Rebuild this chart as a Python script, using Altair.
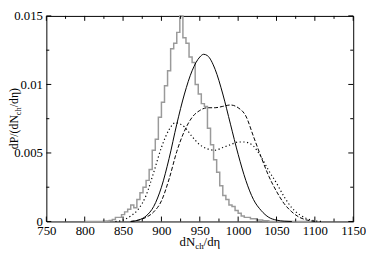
import altair as alt
import pandas as pd

# ---------------- data ----------------
x_major = [750, 800, 850, 900, 950, 1000, 1050, 1100, 1150]
x_minor = [775, 825, 875, 925, 975, 1025, 1075, 1125]
y_major = [0, 0.005, 0.01, 0.015]
y_minor = [0.0025, 0.0075, 0.0125]

hist_x = list(range(800, 1104, 4))  # bin left edges
hist_y = [0, 0, 0, 0, 0,
          0, 0.00002, 0.00004, 0.00008, 0.00015,
          0.0003, 0.0003, 0.0005, 0.0007, 0.0009,
          0.0012, 0.0010, 0.0016, 0.0021, 0.0025,
          0.0030, 0.0038, 0.0052, 0.0060, 0.0076,
          0.0087, 0.0099, 0.0110, 0.0126, 0.0130,
          0.0138, 0.0150, 0.0134, 0.0130, 0.0120,
          0.0116, 0.0100, 0.0093, 0.0086, 0.0084,
          0.0068, 0.0056, 0.0045, 0.0036, 0.0026,
          0.0019, 0.0016, 0.0012, 0.0011, 0.0008,
          0.0006, 0.0004, 0.0003, 0.0003, 0.0002,
          0.0002, 0.0001, 0.0001, 0.00005, 0.00005,
          0, 0, 0, 0, 0, 0, 0, 0, 0, 0, 0, 0, 0, 0, 0, 0]

solid_x = [860, 870, 880, 890, 900, 910, 920, 930, 940, 950, 955, 960, 970,
           980, 990, 1000, 1010, 1020, 1030, 1040, 1050, 1060, 1070]
solid_y = [0.0, 0.0001, 0.0004, 0.0011, 0.0025, 0.0046, 0.0071, 0.0093, 0.0110,
           0.0120, 0.0122, 0.0121, 0.0111, 0.0093, 0.0071, 0.0049, 0.0030,
           0.0016, 0.0008, 0.0003, 0.0001, 0.00002, 0.0]

dashed_x = [860, 870, 880, 890, 900, 910, 920, 930, 940, 950, 960, 970, 980,
            990, 1000, 1010, 1020, 1030, 1040, 1050, 1060, 1070, 1080, 1090, 1100]
dashed_y = [0.0, 0.0001, 0.0003, 0.0007, 0.0015, 0.0031, 0.0051, 0.0066, 0.0076,
            0.0081, 0.0083, 0.0083, 0.0084, 0.0085, 0.0083, 0.0077, 0.0062,
            0.0047, 0.0033, 0.0022, 0.0013, 0.0007, 0.0003, 0.0001, 0.0]

dotted_x = [840, 850, 860, 870, 880, 890, 900, 910, 918, 925, 930, 940, 950, 960,
            970, 980, 990, 1000, 1008, 1020, 1030, 1040, 1050, 1060, 1070, 1080,
            1090, 1100, 1110]
dotted_y = [0.0, 0.0001, 0.0004, 0.0009, 0.0019, 0.0036, 0.0054, 0.0067, 0.0072,
            0.0071, 0.0069, 0.0062, 0.0056, 0.0053, 0.0052, 0.0054, 0.0056,
            0.0058, 0.0058, 0.0055, 0.0047, 0.0037, 0.0028, 0.0018, 0.0010,
            0.0005, 0.0002, 0.00005, 0.0]

# ---------------- layout ----------------
W, H = 312, 209
FONT = "Liberation Serif"

xs = alt.Scale(domain=[750, 1150], nice=False, zero=False)
ys = alt.Scale(domain=[0, 0.015], nice=False, zero=False)
xaxis = alt.Axis(values=x_major, ticks=False, domain=False, grid=False, title=None,
                 format="d", labelFont=FONT, labelFontSize=13, labelColor="black",
                 labelPadding=3, labelFlush=False)
yaxis = alt.Axis(values=y_major, ticks=False, domain=False, grid=False, title=None,
                 format=".3~g", labelFont=FONT, labelFontSize=13, labelColor="black",
                 labelPadding=4, labelFlush=False)


def X(field="x"):
    return alt.X(f"{field}:Q", scale=xs, axis=xaxis)


def Y(field="y"):
    return alt.Y(f"{field}:Q", scale=ys, axis=yaxis)


hist = alt.Chart(pd.DataFrame({"x": hist_x, "y": hist_y})).mark_line(
    interpolate="step-after", color="#9a9a9a", strokeWidth=1.5
).encode(x=X(), y=Y())

solid = alt.Chart(pd.DataFrame({"x": solid_x, "y": solid_y})).mark_line(
    interpolate="monotone", color="black", strokeWidth=1
).encode(x=X(), y=Y())

dashed = alt.Chart(pd.DataFrame({"x": dashed_x, "y": dashed_y})).mark_line(
    interpolate="monotone", color="black", strokeWidth=1, strokeDash=[4, 2]
).encode(x=X(), y=Y())

dotted = alt.Chart(pd.DataFrame({"x": dotted_x, "y": dotted_y})).mark_line(
    interpolate="monotone", color="black", strokeWidth=1.2, strokeDash=[1.2, 2.6]
).encode(x=X(), y=Y())

dxmaj = pd.DataFrame({"x": x_major})
dxmin = pd.DataFrame({"x": x_minor})
dymaj = pd.DataFrame({"y": y_major})
dymin = pd.DataFrame({"y": y_minor})

tick_layers = []
for d, L in ((dxmaj, 5), (dxmin, 3)):
    tick_layers.append(alt.Chart(d).mark_rule(color="black", strokeWidth=1).encode(
        x=X(), y=alt.value(H), y2=alt.value(H - L)))
    tick_layers.append(alt.Chart(d).mark_rule(color="black", strokeWidth=1).encode(
        x=X(), y=alt.value(0), y2=alt.value(L)))
for d, L in ((dymaj, 5), (dymin, 3)):
    tick_layers.append(alt.Chart(d).mark_rule(color="black", strokeWidth=1).encode(
        y=Y(), x=alt.value(0), x2=alt.value(L)))
    tick_layers.append(alt.Chart(d).mark_rule(color="black", strokeWidth=1).encode(
        y=Y(), x=alt.value(W), x2=alt.value(W - L)))


def txt(s, x, y, size, angle=0, align="left"):
    kw = dict(font=FONT, fontSize=size, color="black", align=align,
              baseline="alphabetic")
    if angle:
        kw["angle"] = angle
    return alt.Chart(pd.DataFrame({"t": [s]})).mark_text(**kw).encode(
        x=alt.value(x), y=alt.value(y), text="t:N")


# x title  dN_ch/dη
x0 = W / 2 - 20.5
xb = H + 25
titles = [
    txt("dN", x0, xb, 13),
    txt("ch", x0 + 15.9, xb + 3, 9),
    txt("/dη", x0 + 24.4, xb, 13),
]
# y title  dP/(dN_ch/dη), rotated
yb = -29
y0 = H / 2 + 31
titles += [
    txt("dP/(dN", yb, y0, 12, angle=270),
    txt("ch", yb + 3, y0 - 34.6, 8.5, angle=270),
    txt("/dη)", yb, y0 - 42.6, 12, angle=270),
]

chart = alt.layer(hist, solid, dashed, dotted, *tick_layers, *titles).properties(
    width=W, height=H, padding=0
).configure_view(stroke="black", strokeWidth=1)

chart.save("out.html", embed_options={"renderer": "svg", "actions": False})
